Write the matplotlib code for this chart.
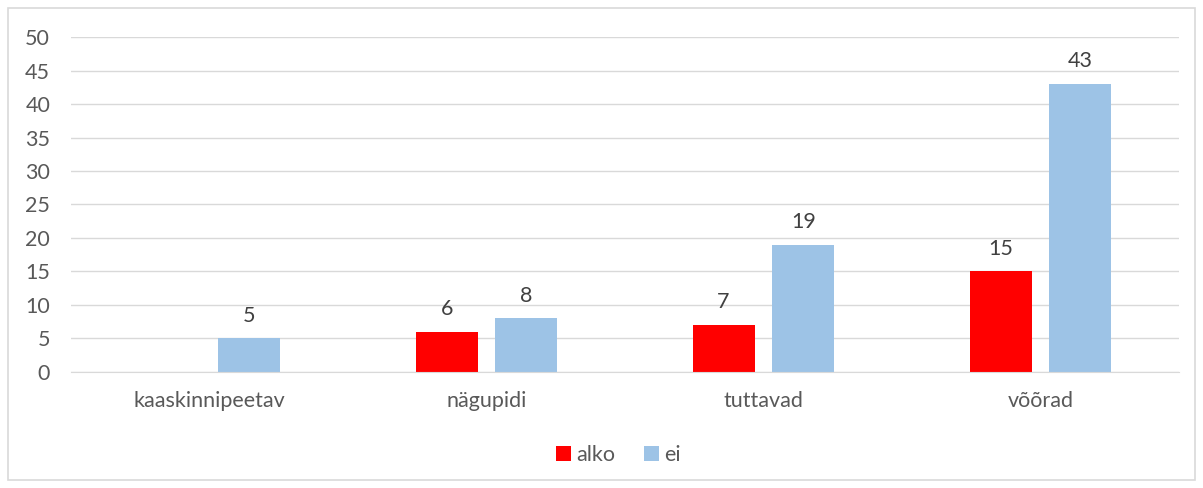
import numpy as np
import matplotlib.pyplot as plt
from matplotlib.patches import Rectangle

# ----------------------------
# Data
# ----------------------------

categories = ["kaaskinnipeetav", "nägupidi", "tuttavad", "võõrad"]
alko = [np.nan, 6, 7, 15]
ei = [5, 8, 19, 43]

red = "#FF0000"
blue = "#9DC3E6"
grid_col = "#D9D9D9"
text_col = "#595959"

plt.rcParams["font.family"] = ["Lato", "DejaVu Sans"]

# ----------------------------
# Plot
# ----------------------------

fig = plt.figure(figsize=(12.03, 4.88), dpi=100)
ax = fig.add_axes([0.059, 0.238, 0.921, 0.686])

x = np.arange(len(categories))
off = 0.144
w = 0.224

b1 = ax.bar(x - off, alko, w, color=red, label="alko")
b2 = ax.bar(x + off, ei, w, color=blue, label="ei")

for bars, vals in ((b1, alko), (b2, ei)):
    for rect, v in zip(bars, vals):
        if np.isnan(v):
            continue
        ax.annotate(f"{v:g}", (rect.get_x() + rect.get_width() / 2, v),
                    xytext=(0, 9), textcoords="offset points",
                    ha="center", va="bottom", fontsize=15.5, color="#404040")

ax.set_xlim(-0.5, len(categories) - 0.5)
ax.set_ylim(0, 50)
ax.set_yticks(range(0, 51, 5))
ax.set_xticks(x)
ax.set_xticklabels(categories)

ax.grid(axis="y", color=grid_col, linewidth=1)
ax.set_axisbelow(True)
for s in ["top", "right", "left"]:
    ax.spines[s].set_visible(False)
ax.spines["bottom"].set_color(grid_col)

ax.tick_params(axis="y", length=0, pad=15, labelsize=15.5, labelcolor=text_col)
ax.tick_params(axis="x", length=0, pad=14, labelsize=15.5, labelcolor=text_col)

leg = fig.legend(loc="center", bbox_to_anchor=(0.514, 0.068), ncol=2, frameon=False,
                 fontsize=15.5, handlelength=0.7, handleheight=0.7,
                 handletextpad=0.25, columnspacing=1.3, labelcolor=text_col)

# chart border
fig.patches.append(Rectangle((0.007, 0.016), 0.986, 0.968, transform=fig.transFigure,
                             fill=False, edgecolor=grid_col, linewidth=1.2))

plt.savefig("out.png", dpi=100)
